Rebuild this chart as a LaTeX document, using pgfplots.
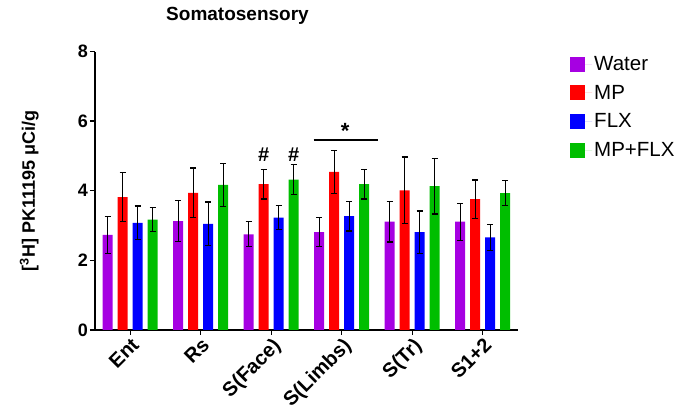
\documentclass[border=0pt]{standalone}
\usepackage{fontspec}
\setmainfont{Liberation Sans}
\usepackage{pgfplots}
\pgfplotsset{compat=1.18}
\usepackage{pgfplotstable}

\definecolor{cWater}{RGB}{166,0,226}
\definecolor{cMP}{RGB}{255,0,0}
\definecolor{cFLX}{RGB}{0,0,255}
\definecolor{cMPFLX}{RGB}{0,190,0}

% region index, mean, half-range of the error bar
\pgfplotstableread{
x y e
0 2.73 0.54
1 3.13 0.59
2 2.75 0.36
3 2.81 0.42
4 3.11 0.58
5 3.11 0.53
}\water
\pgfplotstableread{
x y e
0 3.82 0.70
1 3.94 0.71
2 4.19 0.43
3 4.54 0.61
4 4.01 0.96
5 3.76 0.55
}\mp
\pgfplotstableread{
x y e
0 3.08 0.48
1 3.05 0.63
2 3.23 0.34
3 3.27 0.43
4 2.81 0.61
5 2.66 0.38
}\flx
\pgfplotstableread{
x y e
0 3.17 0.35
1 4.17 0.62
2 4.32 0.43
3 4.19 0.43
4 4.13 0.80
5 3.93 0.36
}\mpflx

\begin{document}
\begin{tikzpicture}
\path[use as bounding box] (-95pt,-84pt) rectangle (582pt,330pt);
\begin{axis}[
  at={(0,0)}, anchor=south west,
  scale only axis, width=423pt, height=278.5pt,
  ybar=5pt, bar width=10pt,
  xmin=-0.5, xmax=5.5, ymin=0, ymax=8,
  xtick={0,...,5},
  xticklabels={Ent,Rs,S(Face),S(Limbs),S(Tr),S1+2},
  ytick={0,2,4,6,8},
  axis lines=left,
  axis line style={-, line width=1.6pt},
  tick style={line width=1.4pt, black},
  major tick length=5pt,
  tick align=outside,
  /pgf/number format/assume math mode=true,
  ticklabel style={font=\fontsize{18}{20}\selectfont\bfseries},
  x tick label style={rotate=45, anchor=north east, font=\fontsize{20}{22}\selectfont\bfseries, inner sep=1pt},
  y tick label style={inner sep=2pt},
  ylabel={[\textsuperscript{3}H] PK11195 μCi/g},
  ylabel style={font=\fontsize{18}{20}\selectfont\bfseries, at={(axis description cs:-0.125,0.5)}},
  error bars/y dir=both, error bars/y explicit,
  error bars/error bar style={line width=1.3pt, black},
  error bars/error mark options={rotate=90, mark size=3pt, line width=1.3pt, black},
  legend image code/.code={\fill[#1] (0pt,-7.5pt) rectangle (15pt,7.5pt); \path (0pt,0pt) -- (22pt,0pt);},
  legend style={draw=none, fill=none, at={(1.123,0.99)}, anchor=north west,
    font=\fontsize{20.5}{22}\selectfont, row sep=9pt, inner sep=0pt,
    cells={anchor=west}},
  clip=false,
]
\addplot[fill=cWater, draw=none] table[x=x, y=y, y error=e] {\water};
\addplot[fill=cMP, draw=none] table[x=x, y=y, y error=e] {\mp};
\addplot[fill=cFLX, draw=none] table[x=x, y=y, y error=e] {\flx};
\addplot[fill=cMPFLX, draw=none] table[x=x, y=y, y error=e] {\mpflx};
\legend{Water,MP,FLX,MP+FLX}

% significance marks
\node[font=\fontsize{20}{22}\selectfont\bfseries, xshift=-7.5pt] at (axis cs:2,5.04) {\#};
\node[font=\fontsize{20}{22}\selectfont\bfseries, xshift=22.5pt] at (axis cs:2,5.04) {\#};
\draw[line width=1.8pt] (axis cs:2.60,5.46) -- (axis cs:3.51,5.46);
\node[font=\fontsize{22}{24}\selectfont\bfseries] at (axis cs:3.05,5.72) {*};
\end{axis}
\node[font=\fontsize{19}{21}\selectfont\bfseries] at (142.5pt,314pt) {Somatosensory};
\end{tikzpicture}
\end{document}
